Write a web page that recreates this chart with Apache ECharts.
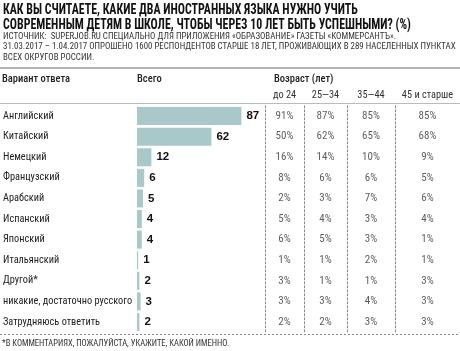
<!DOCTYPE html>
<html>
<head>
<meta charset="utf-8">
<script src="https://cdn.jsdelivr.net/npm/echarts@6/dist/echarts.min.js"></script>
<style>
  html, body { margin: 0; padding: 0; background: #fff; }
  #chart-container { width: 460px; height: 351px; }
</style>
</head>
<body>
<div id="chart-container"></div>
<script>
var narrow = "'Roboto Condensed', 'DejaVu Sans Condensed', sans-serif";

// answers, top to bottom
var answers = ['Английский', 'Китайский', 'Немецкий', 'Французский', 'Арабский', 'Испанский',
  'Японский', 'Итальянский', 'Другой*', 'никакие, достаточно русского', 'Затрудняюсь ответить'];
var total = [87, 62, 12, 6, 5, 4, 4, 1, 2, 3, 2];

var ageGroups = ['до 24', '25—34', '35—44', '45 и старше'];
var under24 = [91, 50, 16, 8, 2, 5, 6, 1, 3, 3, 2];
var age25to34 = [87, 62, 14, 6, 3, 4, 5, 1, 1, 3, 2];
var age35to44 = [85, 65, 10, 6, 7, 3, 3, 2, 1, 4, 3];
var age45plus = [85, 68, 9, 5, 6, 4, 1, 1, 3, 3, 3];
var ageValues = [under24, age25to34, age35to44, age45plus];

var dom = document.getElementById('chart-container');
var myChart = echarts.init(dom, null, { renderer: 'canvas' });

var top0 = 105.8, rowsH = 226.5;
// column edges for the age table
var colLeft = [265, 304, 347, 395];
var colWidth = [39, 43, 48, 65];

var grids = [{ left: 136, width: 121, top: top0, height: rowsH }];
var xAxes = [{ type: 'value', gridIndex: 0, min: 0, max: 100, show: false }];
var yAxes = [{
  type: 'category', gridIndex: 0, inverse: true, data: answers,
  axisLine: { show: false }, axisTick: { show: false },
  axisLabel: { align: 'left', margin: 134, fontFamily: narrow, fontSize: 10.3, color: '#222' }
}];
var series = [{
  type: 'bar', xAxisIndex: 0, yAxisIndex: 0, data: total,
  barWidth: 18,
  itemStyle: { color: '#a9c8c9' },
  label: { show: true, position: 'right', distance: 5, fontFamily: "'Liberation Sans', Arial, sans-serif",
    fontWeight: 'bold', fontSize: 11.5, color: '#111' }
}];

ageGroups.forEach(function (g, k) {
  var idx = k + 1;
  grids.push({ left: colLeft[k], width: colWidth[k], top: top0, height: rowsH });
  xAxes.push({
    type: 'category', gridIndex: idx, data: [g], position: 'top',
    axisLine: { show: false }, axisTick: { show: false },
    axisLabel: { margin: 5, fontFamily: narrow, fontSize: 10.3, color: '#333' }
  });
  yAxes.push({
    type: 'category', gridIndex: idx, inverse: true, data: answers,
    axisLine: { show: true, lineStyle: { color: '#888', type: [2, 2], width: 1 } },
    axisTick: { show: false }, axisLabel: { show: false }
  });
  series.push({
    type: 'scatter', xAxisIndex: idx, yAxisIndex: idx, symbolSize: 0,
    data: ageValues[k].map(function (v, i) { return [g, answers[i], v]; }),
    label: {
      show: true, position: 'inside', fontFamily: narrow, fontSize: 11, color: '#333',
      formatter: function (p) { return p.value[2] + '%'; }
    }
  });
});

var option = {
  animation: false,
  title: {
    text: 'ИСТОЧНИК:  SUPERJOB.RU СПЕЦИАЛЬНО ДЛЯ ПРИЛОЖЕНИЯ «ОБРАЗОВАНИЕ» ГАЗЕТЫ «КОММЕРСАНТЪ».\n' +
      '31.03.2017 – 1.04.2017 ОПРОШЕНО 1600 РЕСПОНДЕНТОВ СТАРШЕ 18 ЛЕТ, ПРОЖИВАЮЩИХ В 289 НАСЕЛЕННЫХ ПУНКТАХ\n' +
      'ВСЕХ ОКРУГОВ РОССИИ.',
    left: 3, top: 31, padding: 0,
    textStyle: { fontFamily: narrow, fontSize: 8.9, fontWeight: 'normal', lineHeight: 10.7, color: '#333' }
  },
  graphic: [
    // main title, squeezed horizontally like the condensed newspaper face
    {
      type: 'text', x: 3, y: 3, scaleX: 0.85,
      style: {
        text: 'КАК ВЫ СЧИТАЕТЕ, КАКИЕ ДВА ИНОСТРАННЫХ ЯЗЫКА НУЖНО УЧИТЬ\nСОВРЕМЕННЫМ ДЕТЯМ В ШКОЛЕ, ЧТОБЫ ЧЕРЕЗ 10 ЛЕТ БЫТЬ УСПЕШНЫМИ? (%)',
        font: 'bold 14px ' + narrow, lineHeight: 15, fill: '#111', verticalAlign: 'top'
      }
    },
    { type: 'line', shape: { x1: 0, y1: 68, x2: 460, y2: 68 }, style: { stroke: '#999', lineWidth: 1.5 } },
    { type: 'line', shape: { x1: 0, y1: 103.5, x2: 460, y2: 103.5 }, style: { stroke: '#bbb', lineWidth: 1 } },
    { type: 'line', shape: { x1: 0, y1: 334.5, x2: 460, y2: 334.5 }, style: { stroke: '#888', lineWidth: 1, lineDash: [2, 2] } },
    { type: 'text', left: 2, top: 74, style: { text: 'Вариант ответа', font: '500 10.5px ' + narrow, fill: '#222' } },
    { type: 'text', left: 137, top: 74, style: { text: 'Всего', font: '500 10.5px ' + narrow, fill: '#222' } },
    { type: 'text', left: 274, top: 74, style: { text: 'Возраст (лет)', font: '500 10.5px ' + narrow, fill: '#222' } },
    { type: 'text', left: 2, top: 339, style: { text: '*В КОММЕНТАРИЯХ, ПОЖАЛУЙСТА, УКАЖИТЕ, КАКОЙ ИМЕННО.', font: '8.5px ' + narrow, fill: '#333' } }
  ],
  grid: grids,
  xAxis: xAxes,
  yAxis: yAxes,
  series: series
};

myChart.setOption(option);
window.addEventListener('resize', myChart.resize);
</script>
</body>
</html>
